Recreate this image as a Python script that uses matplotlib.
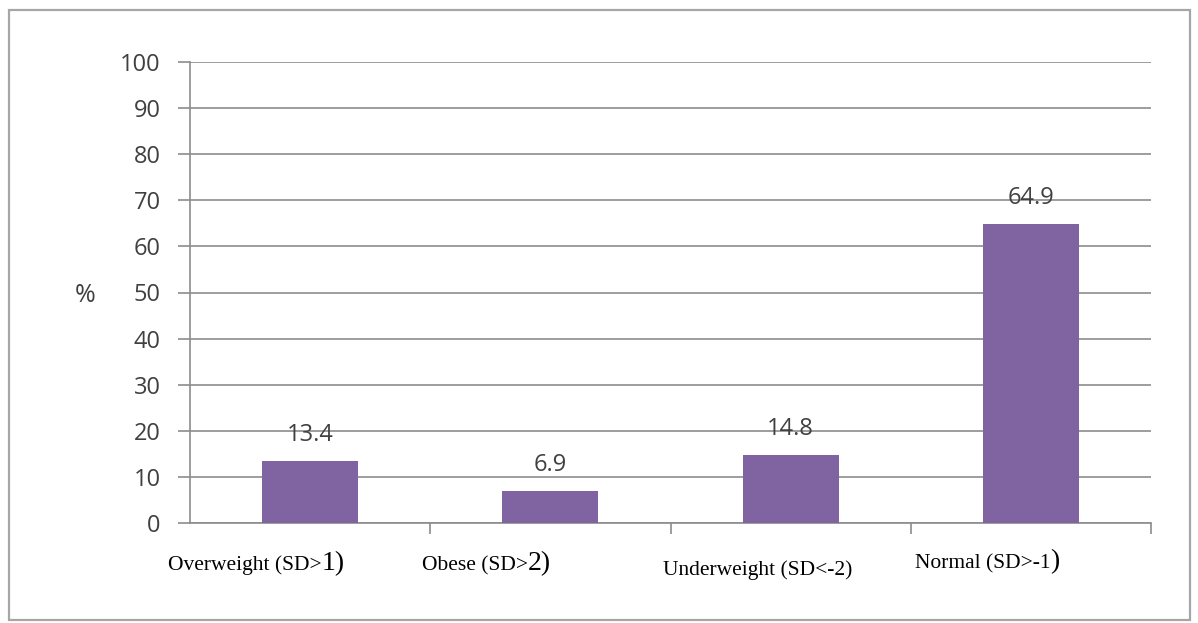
import matplotlib
matplotlib.use("Agg")
import matplotlib.pyplot as plt
from matplotlib.patches import Rectangle

# donnees
categories = ["Overweight (SD>1)", "Obese (SD>2)", "Underweight (SD<-2)", "Normal (SD>-1)"]
valeurs = [13.4, 6.9, 14.8, 64.9]
# etiquettes en deux morceaux (la fin est plus grande dans l'original)
debut_labels = ["Overweight (SD>", "Obese (SD>", "Underweight (SD<-2)", "Normal (SD>-1"]
fin_labels = ["1)", "2)", "", ")"]
yticks = list(range(0, 101, 10))

W, H = 1198, 623
fig = plt.figure(figsize=(W / 100, H / 100), dpi=100)

# cadre exterieur
fig.patches.append(Rectangle((9 / W, 1 - 620 / H), 1181 / W, 610 / H, transform=fig.transFigure,
                             fill=False, edgecolor="#a6a6a6", linewidth=1.6))

ax = fig.add_axes([190 / W, 1 - 523 / H, (1151 - 190) / W, (523 - 62) / H])

grisAxe = "#8c8c8c"
texte = "#404040"

x = list(range(len(categories)))
ax.bar(x, valeurs, width=0.4, color="#8064A2", zorder=3)
ax.set_xlim(-0.5, len(categories) - 0.5)
ax.set_ylim(0, 100)
ax.set_yticks(yticks)
ax.set_yticklabels([str(t) for t in yticks], fontfamily="Open Sans", fontsize=17, color=texte)
ax.yaxis.grid(True, color=grisAxe, linewidth=1.2, zorder=0)
ax.set_axisbelow(True)

ax.set_xticks([])
ax.set_xticks([i + 0.5 for i in x], minor=True)
ax.tick_params(axis="x", which="minor", length=8, color=grisAxe, width=1.2)
ax.tick_params(axis="y", length=9, color=grisAxe, width=1.2, pad=12)

for s in ["top", "right"]:
    ax.spines[s].set_visible(False)
ax.spines["left"].set_color(grisAxe)
ax.spines["bottom"].set_color(grisAxe)
ax.spines["left"].set_linewidth(1.2)
ax.spines["bottom"].set_linewidth(1.2)

# valeurs au dessus des barres
for i, v in enumerate(valeurs):
    ax.annotate(str(v), (i, v), xytext=(0, 10), textcoords="offset points",
                ha="center", va="bottom", fontfamily="Open Sans", fontsize=17, color=texte)

fig.text(85 / W, 1 - 296 / H, "%", ha="center", va="center",
         fontfamily="Open Sans", fontsize=18, color=texte)

# etiquettes des categories (positions comme sur l'image)
pos_x = [168, 422, 663, 915]
pos_y = [570, 570, 575, 568]
for deb, fin, px, py in zip(debut_labels, fin_labels, pos_x, pos_y):
    t = fig.text(px / W, 1 - py / H, deb, ha="left", va="baseline",
                 fontfamily="Liberation Serif", fontsize=15.5, color="black")
    if fin:
        fig.canvas.draw()
        bb = t.get_window_extent()
        fig.text(bb.x1 / W, 1 - py / H, fin, ha="left", va="baseline",
                 fontfamily="Liberation Serif", fontsize=20, color="black")

fig.savefig("out.png", dpi=100)
